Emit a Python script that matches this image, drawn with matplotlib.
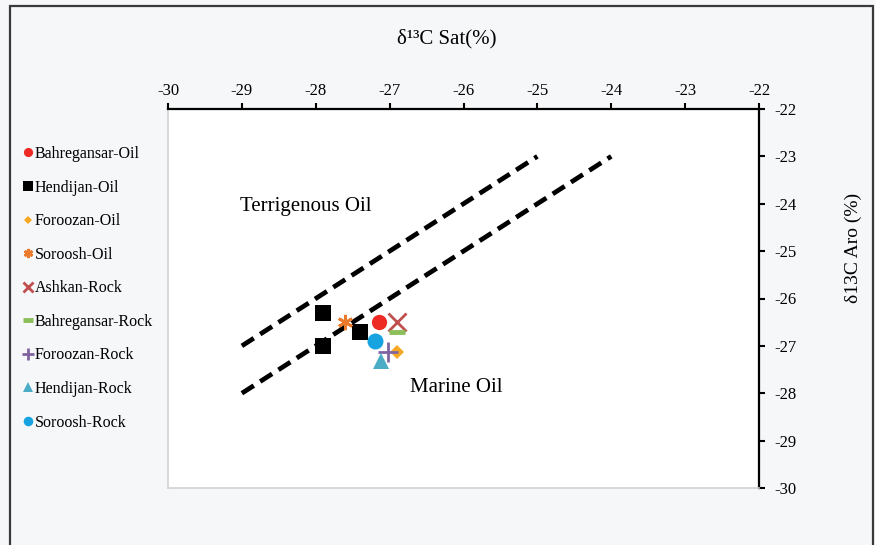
import matplotlib
matplotlib.use("Agg")
import matplotlib.pyplot as plt
from matplotlib.patches import Rectangle

plt.rcParams['font.family'] = ['Liberation Serif', 'DejaVu Serif']

# ---------------- data ----------------
series_names = ["Bahregansar-Oil", "Hendijan-Oil", "Foroozan-Oil", "Soroosh-Oil",
                "Ashkan-Rock", "Bahregansar-Rock", "Foroozan-Rock",
                "Hendijan-Rock", "Soroosh-Rock"]
bahregansar_oil_x = [-27.15]
bahregansar_oil_y = [-26.5]
hendijan_oil_x = [-27.9, -27.9, -27.4]
hendijan_oil_y = [-26.3, -27.0, -26.7]
foroozan_oil_x = [-26.9]
foroozan_oil_y = [-27.12]
soroosh_oil_x = [-27.6]
soroosh_oil_y = [-26.5]
ashkan_rock_x = [-26.9]
ashkan_rock_y = [-26.5]
bahregansar_rock_x = [-26.9]
bahregansar_rock_y = [-26.7]
foroozan_rock_x = [-27.02]
foroozan_rock_y = [-27.12]
hendijan_rock_x = [-27.12]
hendijan_rock_y = [-27.32]
soroosh_rock_x = [-27.2]
soroosh_rock_y = [-26.9]

boundary_upper_x = [-29, -25]
boundary_upper_y = [-27, -23]
boundary_lower_x = [-29, -24]
boundary_lower_y = [-28, -23]

x_ticks = [-30, -29, -28, -27, -26, -25, -24, -23, -22]
y_ticks = [-30, -29, -28, -27, -26, -25, -24, -23, -22]

series_x = [bahregansar_oil_x, hendijan_oil_x, foroozan_oil_x, soroosh_oil_x,
            ashkan_rock_x, bahregansar_rock_x, foroozan_rock_x,
            hendijan_rock_x, soroosh_rock_x]
series_y = [bahregansar_oil_y, hendijan_oil_y, foroozan_oil_y, soroosh_oil_y,
            ashkan_rock_y, bahregansar_rock_y, foroozan_rock_y,
            hendijan_rock_y, soroosh_rock_y]

# ---------------- styles ----------------
styles = [
    dict(marker='o', color='#ee2a24', ms=11, mew=0),
    dict(marker='s', color='#000000', ms=11, mew=0),
    dict(marker='D', color='#f7a823', ms=7, mew=0),
    dict(marker=(6, 2, 0), color='#ec7a2c', ms=11, mew=2),
    dict(marker='x', color='#c0504d', ms=13, mew=2),
    dict(marker='_', color='#8cbf5a', ms=12, mew=3.5),
    dict(marker='+', color='#8064a2', ms=14, mew=2),
    dict(marker='^', color='#4bacc6', ms=12, mew=0),
    dict(marker='o', color='#17a2e0', ms=11.5, mew=0),
]

W, H = 875, 545
fig = plt.figure(figsize=(W / 100, H / 100), dpi=100, facecolor='#f6f7f9')

# outer frame
fig.add_artist(Rectangle((10 / W, -0.05), 863 / W, 1.05 - 6 / H,
                         transform=fig.transFigure, fill=False,
                         edgecolor='#3a3a3a', lw=1.6))

ax = fig.add_axes([168 / W, 1 - 488 / H, (759 - 168) / W, (488 - 109) / H])
ax.set_facecolor('white')

dash_kw = dict(color='black', lw=3.4, dashes=(3.0, 1.6), dash_capstyle='butt', zorder=2)
ax.plot(boundary_upper_x, boundary_upper_y, **dash_kw)
ax.plot(boundary_lower_x, boundary_lower_y, **dash_kw)

handles = []
for name, xs, ys, st in zip(series_names, series_x, series_y, styles):
    h, = ax.plot(xs, ys, linestyle='none', marker=st['marker'],
                 color=st['color'], markersize=st['ms'],
                 markeredgewidth=st['mew'], label=name, zorder=3)
    handles.append(h)

ax.set_xlim(-30, -22)
ax.set_ylim(-30, -22)
ax.set_xticks(x_ticks)
ax.set_yticks(y_ticks)
ax.set_xticklabels([str(v) for v in x_ticks])
ax.set_yticklabels([str(v) for v in y_ticks])
ax.xaxis.tick_top()
ax.yaxis.tick_right()
ax.tick_params(axis='x', direction='out', length=4, width=1.5, pad=3.5,
               labelsize=12, colors='black')
ax.tick_params(axis='y', direction='out', length=4, width=1.5, pad=7,
               labelsize=12, colors='black')

for side in ['top', 'right']:
    ax.spines[side].set_color('black')
    ax.spines[side].set_linewidth(1.6)
for side in ['left', 'bottom']:
    ax.spines[side].set_color('#cfd3d3')
    ax.spines[side].set_linewidth(1.2)

ax.text(-29.03, -24.06, "Terrigenous Oil", fontsize=15, ha='left', va='center')
ax.text(-26.73, -27.87, "Marine Oil", fontsize=15, ha='left', va='center')

fig.text(446.5 / W, 1 - 39 / H, "δ¹³C Sat(%)", fontsize=15, ha='center', va='center')
fig.text(853 / W, 1 - 248 / H, "δ13C Aro (%)", fontsize=14, rotation=90,
         ha='center', va='center')

fig.legend(handles=handles, labels=series_names, loc='upper left',
           bbox_to_anchor=(23 / W, 1 - 146 / H), bbox_transform=fig.transFigure,
           frameon=False, fontsize=11.5, markerscale=0.6, handlelength=0.6,
           handletextpad=0.15, labelspacing=1.1, borderpad=0, borderaxespad=0)

fig.savefig('out.png', dpi=100, facecolor=fig.get_facecolor())
